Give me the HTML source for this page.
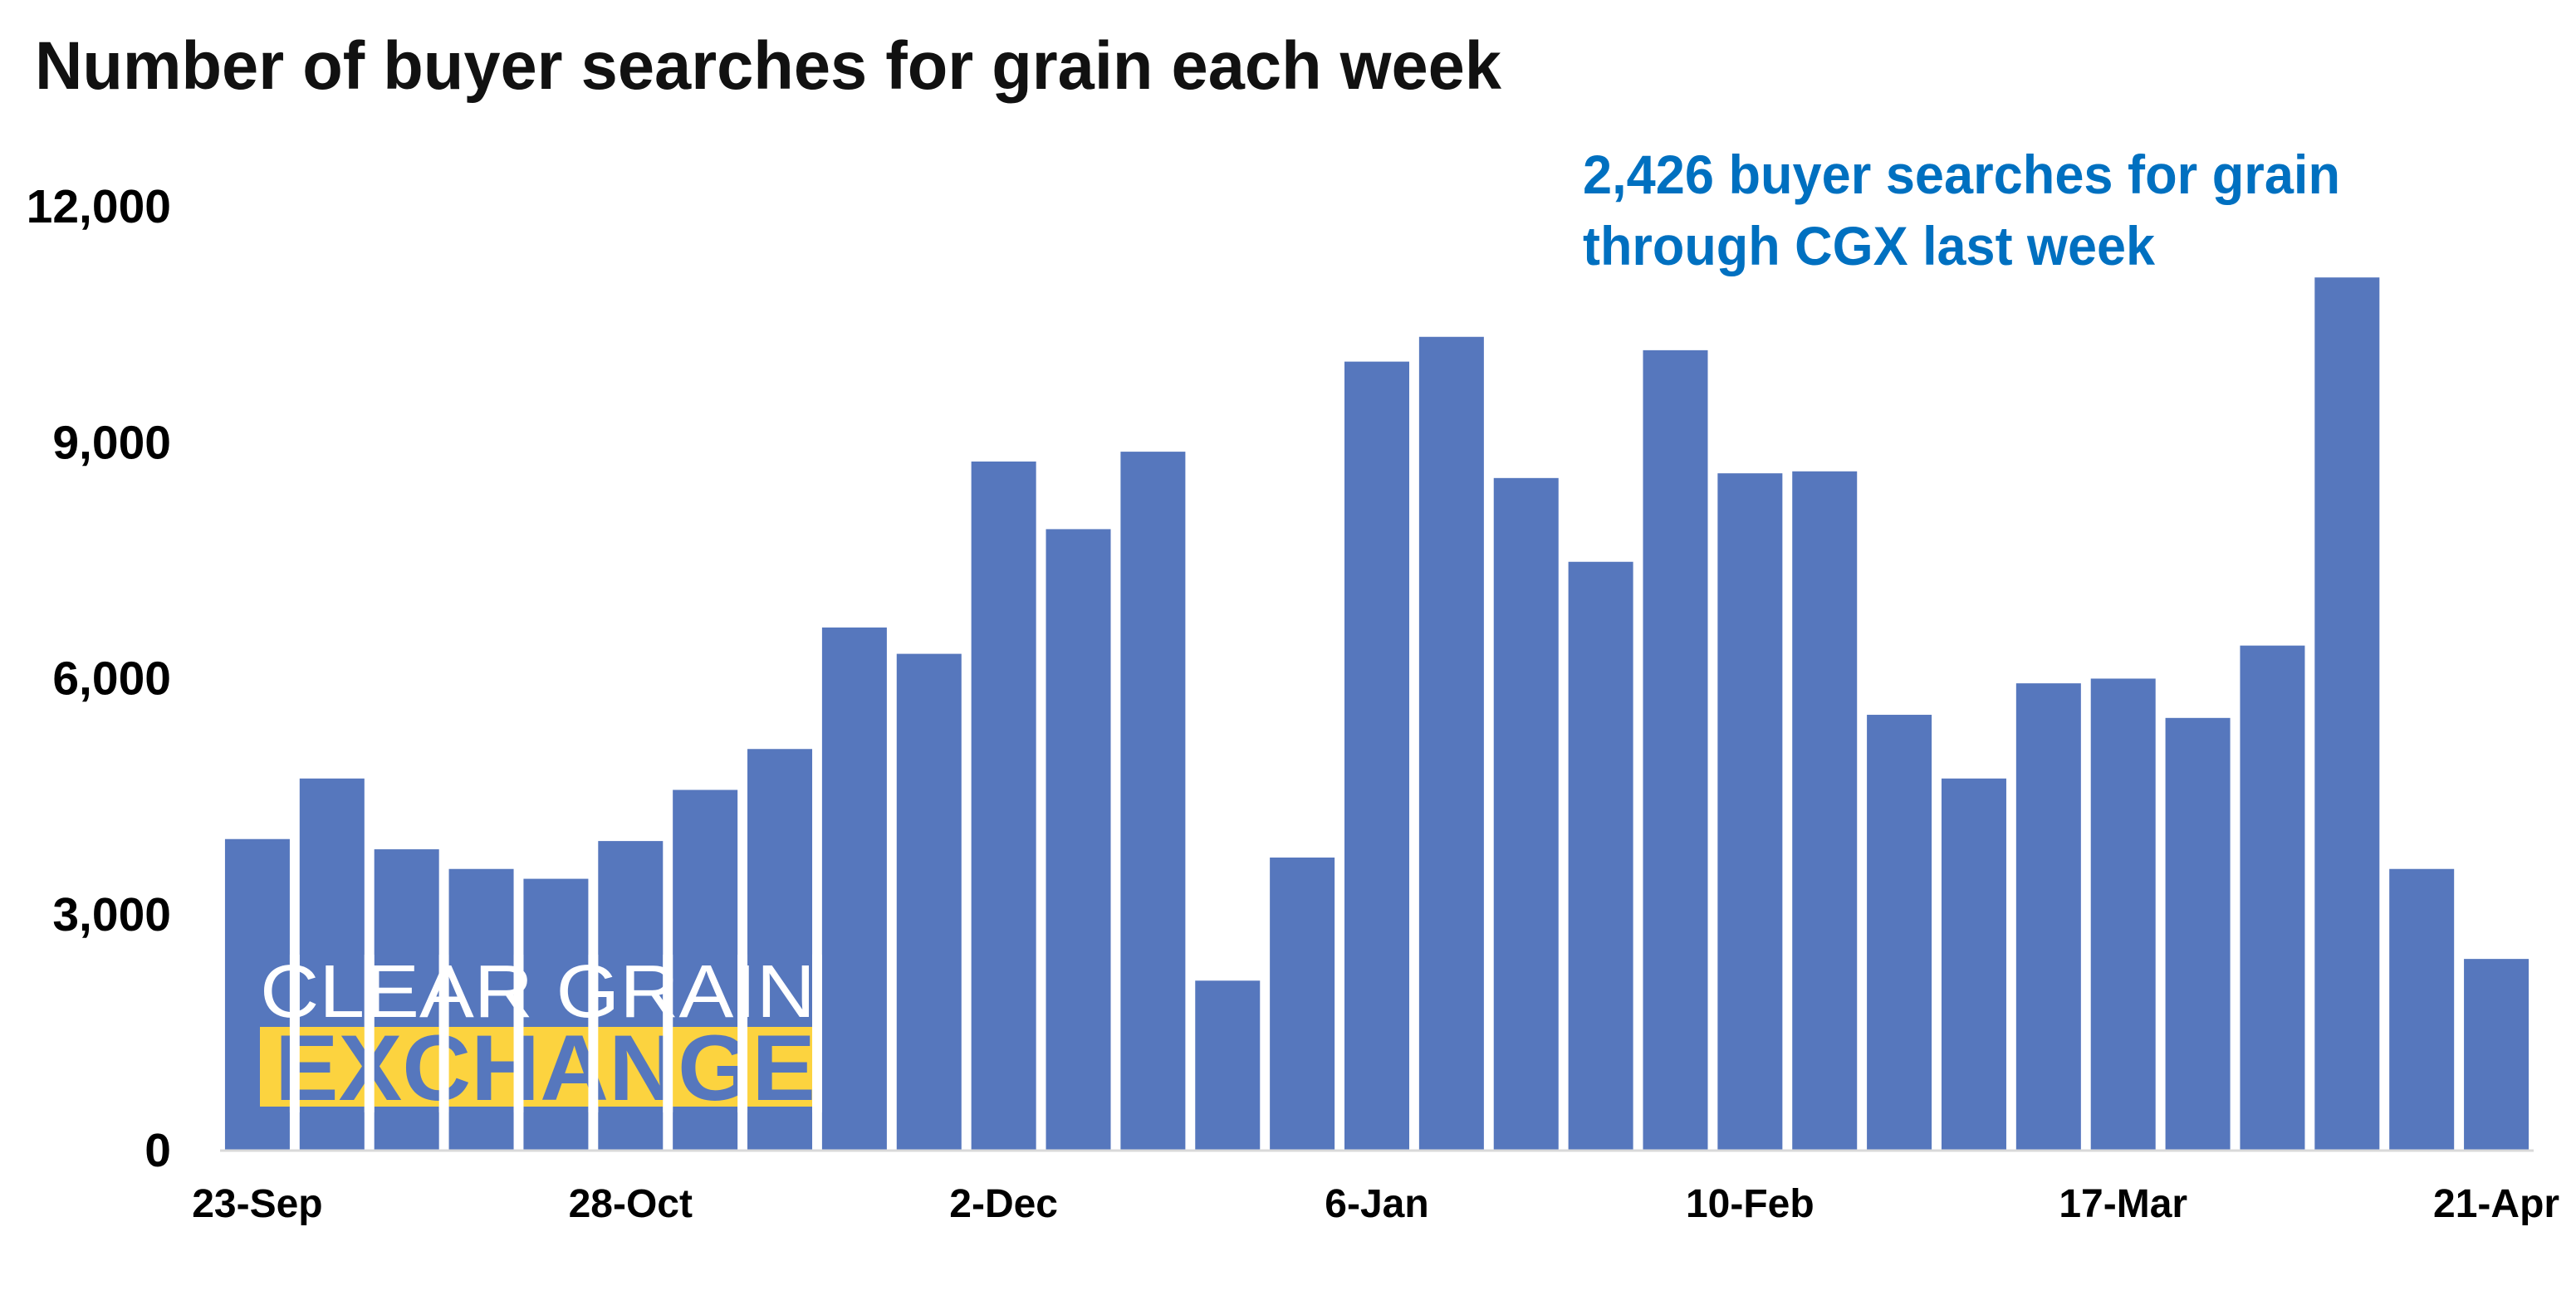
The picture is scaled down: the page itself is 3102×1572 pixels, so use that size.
<!DOCTYPE html>
<html><head><meta charset="utf-8"><style>
html,body{margin:0;padding:0;background:#fff;}
svg{display:block;}
text{font-family:"Liberation Sans",sans-serif;}
</style></head><body>
<svg id="chart" width="3102" height="1572" viewBox="0 0 3102 1572" xmlns="http://www.w3.org/2000/svg">
<rect width="3102" height="1572" fill="#fff"/>
<text x="42" y="107" font-size="82" font-weight="bold" fill="#111" textLength="1766" lengthAdjust="spacingAndGlyphs">Number of buyer searches for grain each week</text>
<g id="bars"></g>
<g id="logo">
<text x="313" y="1225" font-size="90" fill="#fff" textLength="669" lengthAdjust="spacingAndGlyphs">CLEAR GRAIN</text>
<rect x="313" y="1237" width="669" height="96" fill="#fcd33f"/>
<text x="331" y="1325" font-size="112" font-weight="bold" fill="#5677bd" textLength="651" lengthAdjust="spacingAndGlyphs">EXCHANGE</text>
</g>
<g id="gaps"></g>
<line x1="265" y1="1386" x2="3051" y2="1386" stroke="#d9d9d9" stroke-width="3"/>
<g id="yticks"></g>
<g id="xticks"></g>
<text x="1906" y="233" font-size="66" font-weight="bold" fill="#0070c0" textLength="912" lengthAdjust="spacingAndGlyphs">2,426 buyer searches for grain</text>
<text x="1906" y="319" font-size="66" font-weight="bold" fill="#0070c0" textLength="689" lengthAdjust="spacingAndGlyphs">through CGX last week</text>
</svg>
<script>
const values = [3950,4720,3820,3570,3445,3925,4575,5095,6640,6305,8750,7890,8875,2150,3715,10020,10335,8540,7475,10165,8600,8625,5530,4720,5930,5990,5490,6410,11090,3570,2426];
const xLabels = ["23-Sep","","","","","28-Oct","","","","","2-Dec","","","","","6-Jan","","","","","10-Feb","","","","","17-Mar","","","","","21-Apr"];
const yTicks = [0,3000,6000,9000,12000];
const yTickLabels = ["0","3,000","6,000","9,000","12,000"];

const NS="http://www.w3.org/2000/svg";
const x0=265, plotW=2786, y0=1385, yMax=12000, yTop=248;
const band=plotW/values.length, barW=78;
function xScale(i){return x0+i*band+(band-barW)/2;}
function yScale(v){return y0-(v/yMax)*(y0-yTop);}
const bars=document.getElementById('bars');
values.forEach((v,i)=>{
  const r=document.createElementNS(NS,'rect');
  
  
  r.setAttribute('x',xScale(i));r.setAttribute('width',barW);
  r.setAttribute('y',yScale(v));r.setAttribute('height',y0-yScale(v));
  r.setAttribute('fill','#5677bd');
  bars.appendChild(r);
});
const gaps=document.getElementById('gaps');
for(let i=1;i<values.length;i++){
  const gx=xScale(i)-(band-barW);
  if(gx<313||gx>982)continue;
  const g=document.createElementNS(NS,'rect');
  
  
  g.setAttribute('x',gx);g.setAttribute('width',band-barW);
  g.setAttribute('y',1150);g.setAttribute('height',190);
  g.setAttribute('fill','#fff');
  gaps.appendChild(g);
}
const yt=document.getElementById('yticks');
yTicks.forEach((t,i)=>{
  const tx=document.createElementNS(NS,'text');
  
  
  tx.setAttribute('x',206);tx.setAttribute('y',yScale(t)+20);
  tx.setAttribute('text-anchor','end');tx.setAttribute('font-size','57');
  tx.setAttribute('font-weight','bold');tx.setAttribute('fill','#000');
  tx.textContent=yTickLabels[i];
  yt.appendChild(tx);
});
const xt=document.getElementById('xticks');
xLabels.forEach((l,i)=>{
  if(!l)return;
  const tx=document.createElementNS(NS,'text');
  
  
  tx.setAttribute('x',xScale(i)+barW/2);tx.setAttribute('y',1466);
  tx.setAttribute('text-anchor','middle');tx.setAttribute('font-size','48');
  tx.setAttribute('font-weight','bold');tx.setAttribute('fill','#000');
  tx.textContent=l;
  xt.appendChild(tx);
});
</script>
</body></html>
